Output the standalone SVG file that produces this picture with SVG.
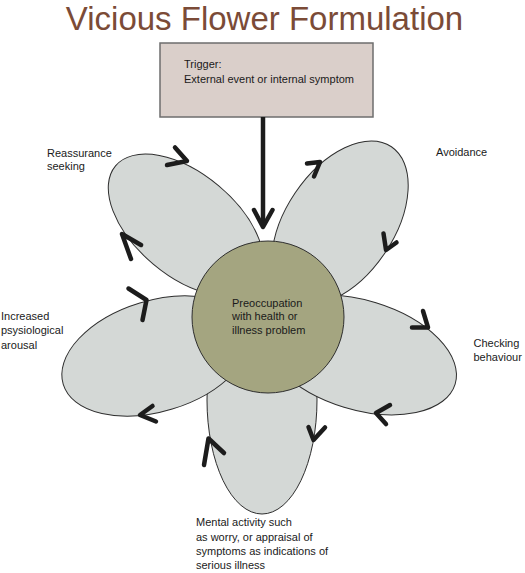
<svg xmlns="http://www.w3.org/2000/svg" width="525" height="573" viewBox="0 0 525 573">
<style>
.petal{fill:#d4d8d6;stroke:#2e2e2e;stroke-width:1}
.core{fill:#a4a580;stroke:#2e2e2e;stroke-width:1}
.arr{fill:none;stroke:#1c1c1c;stroke-width:4.5;stroke-linecap:round;stroke-linejoin:round}
.lbl{font-family:"Liberation Sans",Arial,sans-serif;font-size:11px;fill:#1a1a1a}
.title{font-family:"Liberation Sans",Arial,sans-serif;font-size:33px;fill:#7b4b37}
</style>
<rect width="525" height="573" fill="#ffffff"/>
<text class="title" x="264.5" y="30" text-anchor="middle">Vicious Flower Formulation</text>

<g id="trigger">
<rect x="160" y="43" width="213" height="74" fill="#dacfca" stroke="#6e6e6e" stroke-width="1.5"/>
<text class="lbl" x="184" y="68">Trigger:</text>
<text class="lbl" x="184" y="82.5" font-size="10.6">External event or internal symptom</text>
</g>

<g id="petal-reassurance">
<ellipse class="petal" cx="186" cy="225" rx="92" ry="51" transform="rotate(40 186 225)"/>
</g>
<g id="petal-avoidance">
<ellipse class="petal" cx="340" cy="223" rx="92" ry="54" transform="rotate(-56 340 223)"/>
</g>
<g id="petal-mental">
<ellipse class="petal" cx="262" cy="400" rx="55" ry="114"/>
</g>
<g id="petal-arousal">
<ellipse class="petal" cx="156" cy="356" rx="97" ry="55.5" transform="rotate(-17 156 356)"/>
</g>
<g id="petal-checking">
<ellipse class="petal" cx="360" cy="355" rx="99.5" ry="54.6" transform="rotate(17 360 355)"/>
</g>
<g id="center">
<circle class="core" cx="268" cy="317" r="76"/>
<text class="lbl" x="232" y="306.5">Preoccupation</text>
<text class="lbl" x="232" y="320">with health or</text>
<text class="lbl" x="232" y="334">illness problem</text>
</g>

<g id="connectors">
<line x1="263" y1="117" x2="263" y2="226" stroke="#1c1c1c" stroke-width="4.5"/>
<polyline class="arr" points="254,210 263,227 272.5,210"/>
<polyline class="arr" points="167,165 187,161 175,147.5"/>
<polyline class="arr" points="141,245 122,234 131,259"/>
<polyline class="arr" points="307,163.5 320,162 314,176.5"/>
<polyline class="arr" points="383.5,233.5 386,250 396.5,242.5"/>
<polyline class="arr" points="412,327.5 428,327.5 423,311"/>
<polyline class="arr" points="390,405 376,413 386,424"/>
<polyline class="arr" points="308.5,427 313.5,440 325,427.5"/>
<polyline class="arr" points="204,465 208.5,438.5 224,453"/>
<polyline class="arr" points="152.5,406 140,415 156,421.5"/>
<polyline class="arr" points="128.5,288.5 146.5,300 142.5,320"/>
</g>

<g id="labels">
<text class="lbl" x="47" y="157">Reassurance</text>
<text class="lbl" x="47" y="170">seeking</text>
<text class="lbl" x="436" y="156">Avoidance</text>
<text class="lbl" x="1" y="319.5">Increased</text>
<text class="lbl" x="1" y="334">psysiological</text>
<text class="lbl" x="1" y="348.5">arousal</text>
<text class="lbl" x="473.5" y="347" font-size="11.3">Checking</text>
<text class="lbl" x="473.5" y="361" font-size="11.3">behaviour</text>
<text class="lbl" x="196" y="526" font-size="11.2">Mental activity such</text>
<text class="lbl" x="196" y="540.5" font-size="11.2">as worry, or appraisal of</text>
<text class="lbl" x="196" y="555" font-size="11.2">symptoms as indications of</text>
<text class="lbl" x="196" y="569" font-size="11.2">serious illness</text>
</g>
</svg>
